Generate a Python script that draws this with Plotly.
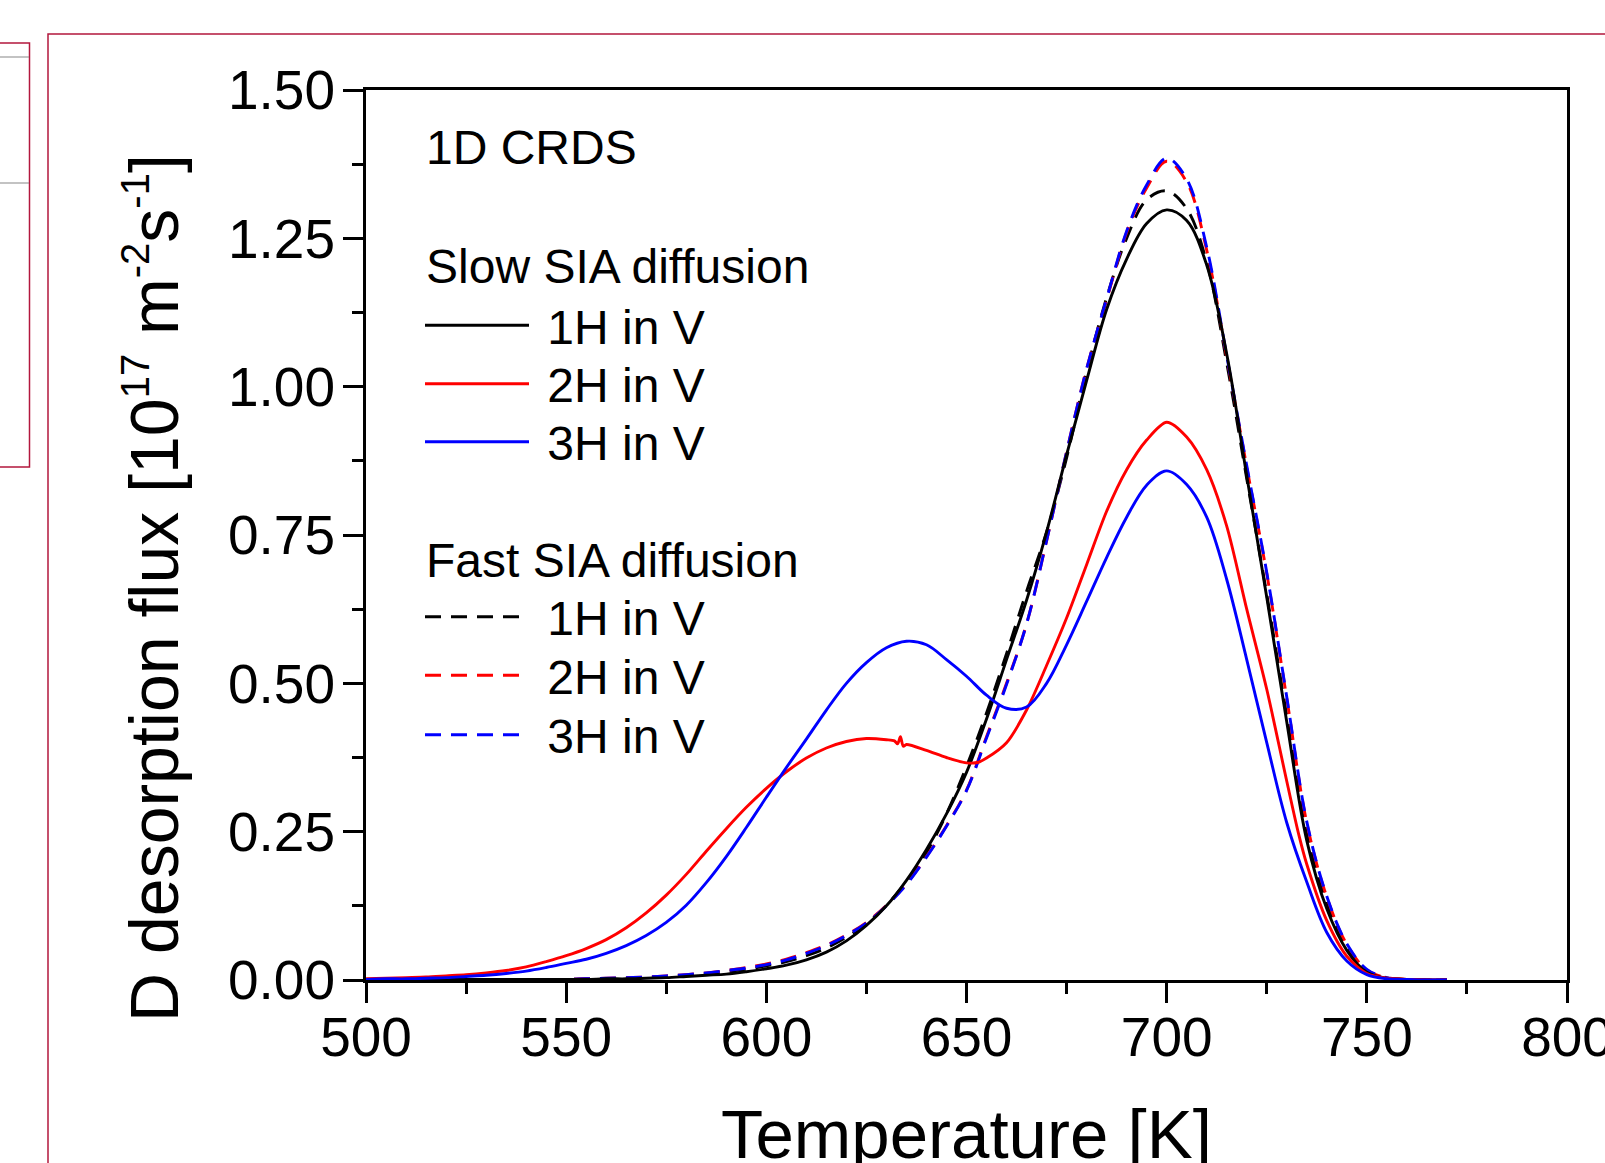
import plotly.graph_objects as go

# temperature grid [K]
temp = [500, 505, 510, 515, 520, 525, 530, 535, 540, 545,
        550, 555, 560, 565, 570, 575, 580, 585, 590, 595,
        600, 605, 610, 615, 620, 625, 630, 635, 640, 645,
        650, 655, 660, 665, 670, 675, 680, 685, 690, 695,
        700, 705, 710, 715, 720, 725, 730, 735, 740, 745,
        750, 755, 760, 765, 770]

# slow SIA diffusion (solid lines), flux in 1e17 m^-2 s^-1
slow_1h = [0, 0, 0, 0, 0.001, 0.001, 0.001, 0.001, 0.001, 0.001,
           0.001, 0.001, 0.002, 0.002, 0.003, 0.004, 0.006, 0.008, 0.010, 0.014,
           0.019, 0.025, 0.034, 0.047, 0.066, 0.092, 0.125, 0.168, 0.22, 0.28,
           0.35, 0.44, 0.54, 0.64, 0.755, 0.885, 1.01, 1.13, 1.215, 1.275,
           1.298, 1.28, 1.205, 1.055, 0.85, 0.645, 0.435, 0.235, 0.12, 0.05,
           0.013, 0.003, 0.001, 0, 0]

# 2H curve has a small numerical wiggle near 633 K, so it gets its own grid
temp_2h = [500, 505, 510, 515, 520, 525, 530, 535, 540, 545,
           550, 555, 560, 565, 570, 575, 580, 585, 590, 595,
           600, 605, 610, 615, 620, 625, 630, 632, 632.8, 633.5, 634.2, 635, 640, 645,
           650, 653, 655, 660, 665, 670, 675, 680, 685, 690, 695,
           700, 705, 710, 715, 720, 725, 730, 733, 735, 740, 745,
           750, 755, 760, 765, 770]
slow_2h = [0.002, 0.003, 0.004, 0.005, 0.007, 0.009, 0.012, 0.016, 0.022, 0.031,
           0.041, 0.053, 0.068, 0.088, 0.113, 0.143, 0.178, 0.217, 0.255, 0.291,
           0.323, 0.351, 0.374, 0.391, 0.402, 0.407, 0.405, 0.403, 0.398, 0.41, 0.394, 0.397, 0.387, 0.375,
           0.366, 0.367, 0.374, 0.40, 0.455, 0.53, 0.61, 0.70, 0.79, 0.86, 0.91,
           0.94, 0.915, 0.86, 0.765, 0.625, 0.49, 0.335, 0.245, 0.195, 0.10, 0.04,
           0.011, 0.003, 0.001, 0, 0]

slow_3h = [0.001, 0.002, 0.002, 0.003, 0.004, 0.006, 0.008, 0.011, 0.015, 0.021,
           0.028, 0.035, 0.045, 0.058, 0.075, 0.097, 0.126, 0.164, 0.208, 0.257,
           0.308, 0.358, 0.406, 0.455, 0.50, 0.535, 0.56, 0.571, 0.565, 0.54,
           0.512, 0.48, 0.458, 0.46, 0.50, 0.565, 0.638, 0.712, 0.78, 0.834,
           0.858, 0.835, 0.78, 0.675, 0.54, 0.40, 0.265, 0.165, 0.08, 0.032,
           0.009, 0.002, 0.001, 0, 0]

# fast SIA diffusion (dashed lines)
fast_1h = [0, 0, 0, 0, 0, 0.001, 0.001, 0.001, 0.001, 0.001,
           0.001, 0.002, 0.002, 0.003, 0.004, 0.006, 0.008, 0.010, 0.014, 0.018,
           0.024, 0.031, 0.041, 0.054, 0.072, 0.095, 0.126, 0.166, 0.215, 0.28,
           0.36, 0.45, 0.55, 0.655, 0.755, 0.88, 1.025, 1.15, 1.25, 1.315,
           1.33, 1.30, 1.21, 1.04, 0.845, 0.65, 0.445, 0.245, 0.13, 0.056,
           0.015, 0.003, 0.001, 0, 0]

fast_2h = [0, 0, 0, 0, 0, 0.001, 0.001, 0.001, 0.001, 0.001,
           0.001, 0.002, 0.003, 0.004, 0.005, 0.007, 0.009, 0.012, 0.016, 0.021,
           0.027, 0.035, 0.046, 0.059, 0.076, 0.097, 0.126, 0.162, 0.208, 0.26,
           0.32, 0.41, 0.50, 0.60, 0.74, 0.89, 1.03, 1.146, 1.26, 1.335,
           1.38, 1.345, 1.23, 1.05, 0.865, 0.685, 0.475, 0.265, 0.14, 0.06,
           0.017, 0.004, 0.001, 0, 0]

fast_3h = [0, 0, 0, 0, 0, 0.001, 0.001, 0.001, 0.001, 0.001,
           0.001, 0.002, 0.003, 0.004, 0.005, 0.007, 0.009, 0.012, 0.016, 0.02,
           0.026, 0.034, 0.045, 0.058, 0.075, 0.096, 0.125, 0.161, 0.207, 0.259,
           0.319, 0.408, 0.498, 0.60, 0.74, 0.89, 1.03, 1.148, 1.262, 1.34,
           1.385, 1.35, 1.235, 1.052, 0.867, 0.687, 0.477, 0.267, 0.141, 0.061,
           0.018, 0.004, 0.001, 0, 0]

labels = ['1H in V', '2H in V', '3H in V']
colors = ['black', 'red', 'blue']

FONT = 'Liberation Sans, Arial, sans-serif'
W, H = 1605, 1163
ML, MR, MT, MB = 366, 38, 90, 183

# legend row centres (page px), Origin-style legend is tighter than plotly's default
slow_rows = [325.5, 384, 442]
fast_rows = [617, 675.5, 735]


def px_x(p):
    # page pixel -> paper x
    return (p - ML) / (W - ML - MR)


def px_y(p):
    # page pixel -> paper y
    return (H - MB - p) / (H - MT - MB)


fig = go.Figure()

# dashed curves first so the solid ones sit on top
for i, ys in enumerate([fast_1h, fast_2h, fast_3h]):
    fig.add_trace(go.Scatter(x=temp, y=ys, mode='lines', name='\u00a0' + labels[i],
                             line=dict(color=colors[i], width=2.9, dash='16px,10px', shape='spline'),
                             legend='legend%d' % (4 + i)))

slow_x = [temp, temp_2h, temp]
for i, ys in enumerate([slow_1h, slow_2h, slow_3h]):
    fig.add_trace(go.Scatter(x=slow_x[i], y=ys, mode='lines', name='\u00a0' + labels[i],
                             line=dict(color=colors[i], width=2.9, shape='spline',
                                       smoothing=0.8 if i == 1 else 1.0),
                             legend='legend' if i == 0 else 'legend%d' % (1 + i)))

frame = '#b3173d'
shapes = [
    dict(type='rect', xref='paper', yref='paper', x0=px_x(48), x1=px_x(1700), y0=px_y(1300), y1=px_y(34),
         line=dict(color=frame, width=1.5)),
    dict(type='rect', xref='paper', yref='paper', x0=px_x(-10), x1=px_x(29.5), y0=px_y(467), y1=px_y(43),
         line=dict(color=frame, width=1.5)),
    dict(type='line', xref='paper', yref='paper', x0=px_x(-10), x1=px_x(29), y0=px_y(57), y1=px_y(57),
         line=dict(color='#888888', width=1.2)),
    dict(type='line', xref='paper', yref='paper', x0=px_x(-10), x1=px_x(29), y0=px_y(183), y1=px_y(183),
         line=dict(color='#888888', width=1.2)),
]

axis_common = dict(
    showline=True, linecolor='black', linewidth=3, mirror=True,
    ticks='outside', ticklen=20, tickwidth=3, tickcolor='black',
    showgrid=False, zeroline=False, automargin=False,
    ticklabeloverflow='allow',
    tickfont=dict(family=FONT, size=55, color='black'),
)

legends = {}
for k, yrow in enumerate(slow_rows + fast_rows):
    key = 'legend' if k == 0 else 'legend%d' % (k + 1)
    legends[key] = dict(x=px_x(420), y=px_y(yrow), xanchor='left', yanchor='middle',
                        bgcolor='rgba(0,0,0,0)', font=dict(family=FONT, size=48), itemwidth=104)

sup = '<sup><span style="font-size:40px">%s</span></sup>'
y_title = 'D desorption flux [10' + sup % '17' + ' m' + sup % '-2' + 's' + sup % '-1' + ']'

fig.update_layout(
    width=W, height=H,
    margin=dict(l=ML, r=MR, t=MT, b=MB, pad=0),
    paper_bgcolor='white', plot_bgcolor='white',
    font=dict(family=FONT, color='black'),
    xaxis=dict(range=[500, 800], tick0=500, dtick=50, ticklabelstandoff=-13,
               minor=dict(dtick=25, ticks='outside', ticklen=11, tickwidth=3, tickcolor='black'),
               **axis_common),
    yaxis=dict(range=[0, 1.5], tick0=0, dtick=0.25, tickformat='.2f', ticklabelstandoff=-3,
               minor=dict(dtick=0.125, ticks='outside', ticklen=11, tickwidth=3, tickcolor='black'),
               **axis_common),
    showlegend=True,
    annotations=[
        dict(text='1D CRDS', xref='paper', yref='paper', x=px_x(424), y=px_y(148),
             xanchor='left', yanchor='middle', showarrow=False, font=dict(family=FONT, size=48)),
        dict(text='Slow SIA diffusion', xref='paper', yref='paper', x=px_x(424), y=px_y(266),
             xanchor='left', yanchor='middle', showarrow=False, font=dict(family=FONT, size=48)),
        dict(text='Fast SIA diffusion', xref='paper', yref='paper', x=px_x(424), y=px_y(560),
             xanchor='left', yanchor='middle', showarrow=False, font=dict(family=FONT, size=48)),
        # axis titles as annotations: the x title runs off the bottom edge in the original
        dict(text='Temperature [K]', xref='paper', yref='paper', x=0.5, y=px_y(1134),
             xanchor='center', yanchor='middle', showarrow=False, font=dict(family=FONT, size=69)),
        dict(text=y_title, xref='paper', yref='paper', x=px_x(152), y=px_y(588),
             xanchor='center', yanchor='middle', textangle=-90, showarrow=False,
             font=dict(family=FONT, size=68)),
    ],
    shapes=shapes,
    **legends,
)

fig.write_html('out.html', config={'displayModeBar': False},
               post_script="document.body.style.margin='0';")
